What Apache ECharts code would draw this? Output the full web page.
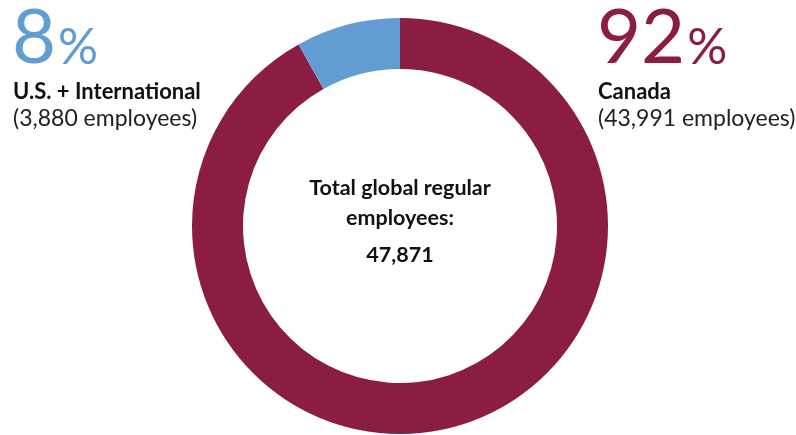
<!DOCTYPE html>
<html>
<head>
<meta charset="utf-8">
<script src="https://cdn.jsdelivr.net/npm/echarts@6/dist/echarts.min.js"></script>
<style>
  html, body { margin: 0; padding: 0; background: #fff; }
  #chart { width: 796px; height: 435px; }
</style>
</head>
<body>
<div id="chart"></div>
<script>
// data
var regions = ['Canada', 'U.S. + International'];
var employees = [43991, 3880];
var percents = ['92', '8'];
var colors = ['#8a1d41', '#619cd3'];
var totalLabel = ['Total global regular', 'employees:'];
var totalValue = '47,871';

var FONT = 'Lato, "Open Sans", sans-serif';

window.onload = function () {
    var chart = echarts.init(document.getElementById('chart'));

    var fmt = function (n) { return n.toLocaleString('en-US'); };

    // side labels: left = U.S., right = Canada
    var sideText = function (i, x) {
        return [
            {
                type: 'text', left: x, top: 0,
                style: {
                    text: '{big|' + percents[i] + '}{pct|%}',
                    rich: {
                        big: { fontFamily: FONT, fontWeight: 'normal', fontSize: 76, fill: colors[i], verticalAlign: 'bottom', lineHeight: 67 },
                        pct: { fontFamily: FONT, fontWeight: 'normal', fontSize: 50, fill: colors[i], verticalAlign: 'bottom', lineHeight: 67, padding: [0, 0, 3, 2] }
                    }
                }
            },
            {
                type: 'text', left: x + 1, top: 81,
                style: { text: regions[i], fontFamily: FONT, fontWeight: 'bold', fontSize: 22, fill: '#111' }
            },
            {
                type: 'text', left: x + 1, top: 107,
                style: { text: '(' + fmt(employees[i]) + ' employees)', fontFamily: FONT, fontSize: 23, fill: '#222' }
            }
        ];
    };

    var option = {
        animation: false,
        series: [{
            type: 'pie',
            center: [400, 226],
            radius: [157, 208],
            startAngle: 90,
            clockwise: true,
            label: { show: false },
            labelLine: { show: false },
            emphasis: { disabled: true },
            data: regions.map(function (r, i) {
                return { name: r, value: employees[i], itemStyle: { color: colors[i] } };
            })
        }],
        graphic: sideText(1, 12).concat(sideText(0, 597)).concat([
            {
                type: 'text', x: 400, y: 188,
                style: { text: totalLabel[0], fontFamily: FONT, fontWeight: 'bold', fontSize: 21.5, fill: '#111', align: 'center', verticalAlign: 'middle' }
            },
            {
                type: 'text', x: 400, y: 218,
                style: { text: totalLabel[1], fontFamily: FONT, fontWeight: 'bold', fontSize: 21.5, fill: '#111', align: 'center', verticalAlign: 'middle' }
            },
            {
                type: 'text', x: 400, y: 255,
                style: { text: totalValue, fontFamily: FONT, fontWeight: 'bold', fontSize: 21.5, fill: '#111', align: 'center', verticalAlign: 'middle' }
            }
        ])
    };

    chart.setOption(option);
};
</script>
</body>
</html>
